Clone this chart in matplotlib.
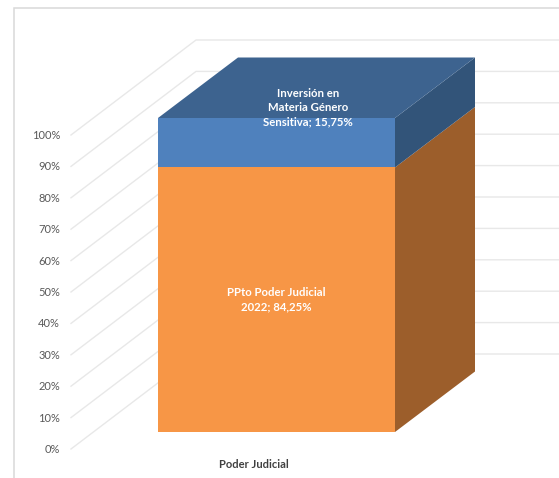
import matplotlib
matplotlib.use('Agg')
import matplotlib.pyplot as plt
from matplotlib.patches import Polygon

# stacked 3d column, drawn by hand as an oblique projection
category = 'Poder Judicial'
series_names = ['PPto Poder Judicial\n2022', 'Inversión en\nMateria Género\nSensitiva']
series_values = [84.25, 15.75]
tick_values = [0, 10, 20, 30, 40, 50, 60, 70, 80, 90, 100]
series_colors = [('#F79646', '#9C5E2B'), ('#4F81BD', '#325479')]
top_color = '#3D638F'
grid_color = '#E8E8E8'
label_color = '#595959'

plt.rcParams['font.family'] = ['Lato', 'DejaVu Sans']

fig = plt.figure(figsize=(5.59, 4.78), dpi=100)
ax = fig.add_axes([0, 0, 1, 1])

# x in pixels, y in percent: 3.14 px per percent, bar base at pixel row 432
px_per_pct = 3.14
ax.set_xlim(0, 559)
ax.set_ylim(-(478 - 432) / px_per_pct, 432 / px_per_pct)
ax.axis('off')


def rise(px):
    return px / px_per_pct


# chart frame
ax.plot([14, 14, 559], [rise(432 - 478), rise(432 - 8), rise(432 - 8)],
        color='#D9D9D9', lw=1.1, solid_joinstyle='miter', zorder=1)

# gridlines: front edge, then back wall
for v in tick_values:
    ax.plot([71, 196, 559], [v + rise(-17), v + rise(78), v + rise(78)],
            color=grid_color, lw=1.0, zorder=1)
    ax.text(60, v + rise(-17.5), f'{v}%', ha='right', va='center',
            fontsize=8, color=label_color)

# bar
x0, x1 = 158, 395
dx, dy = 80, rise(60.5)
base = 0
for val, (front, side) in zip(series_values, series_colors):
    ax.add_patch(Polygon([(x0, base), (x1, base), (x1, base + val), (x0, base + val)],
                         fc=front, ec='none', zorder=2))
    ax.add_patch(Polygon([(x1, base), (x1 + dx, base + dy), (x1 + dx, base + val + dy),
                          (x1, base + val)], fc=side, ec='none', zorder=2))
    base += val
ax.add_patch(Polygon([(x0, base), (x1, base), (x1 + dx, base + dy), (x0 + dx, base + dy)],
                     fc=top_color, ec='none', zorder=2))

# data labels
ax.text(276, series_values[0] / 2,
        f'{series_names[0]}; {series_values[0]:.2f}%'.replace('.', ','),
        color='white', fontweight='bold', fontsize=8.2, ha='center', va='center',
        linespacing=1.33, zorder=3)
ax.text(308, series_values[0] + series_values[1] + rise(10.5),
        f'{series_names[1]}; {series_values[1]:.2f}%'.replace('.', ','),
        color='white', fontweight='bold', fontsize=8.2, ha='center', va='center',
        linespacing=1.33, zorder=3)

ax.text(254, rise(432 - 464), category, color='#404040', fontweight='bold',
        fontsize=8, ha='center', va='center')

fig.savefig('out.png', dpi=100)
